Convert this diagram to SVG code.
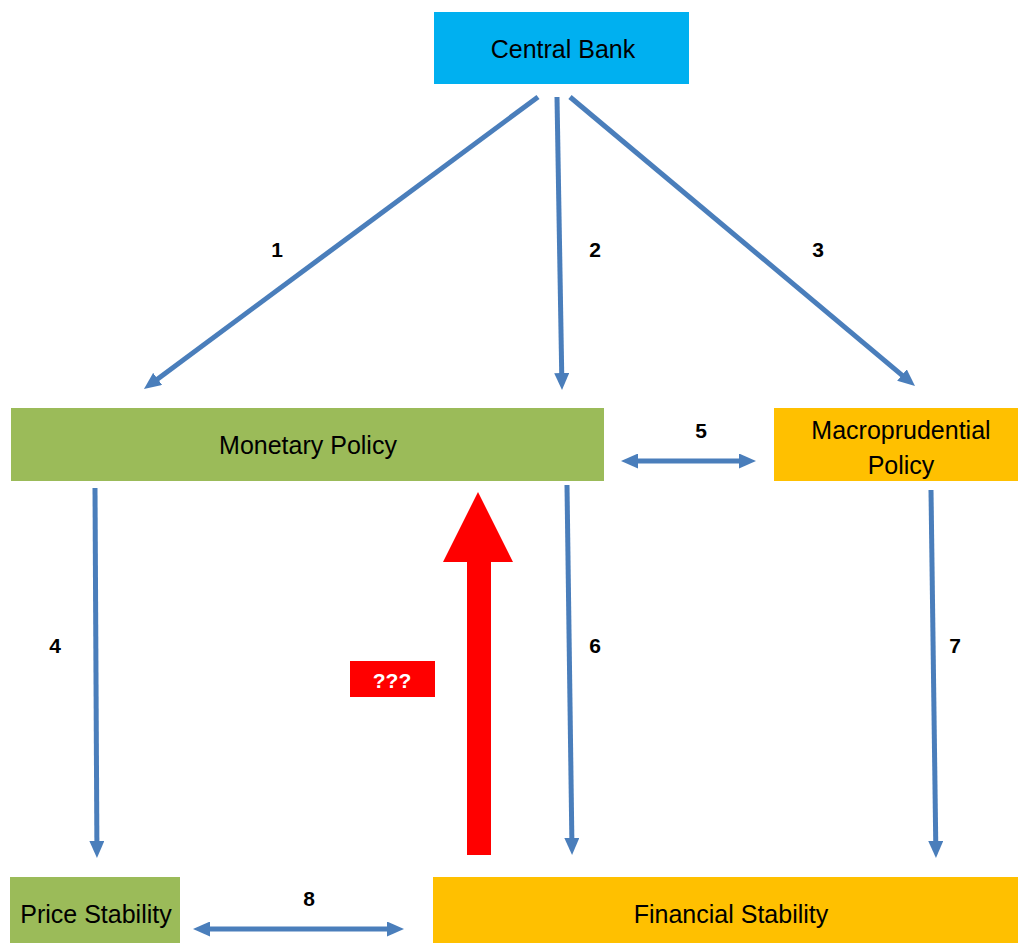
<svg xmlns="http://www.w3.org/2000/svg" width="1018" height="943" viewBox="0 0 1018 943">
<style>
.node-text{font-family:"Liberation Sans",Arial,sans-serif;font-size:25px;fill:#000;text-anchor:middle}
.num{font-family:"Liberation Sans",Arial,sans-serif;font-size:21px;font-weight:bold;fill:#000;text-anchor:middle}
.conn{stroke:#4A7EBB;stroke-width:5;fill:none}
</style>
<defs>
<marker id="ah" markerUnits="userSpaceOnUse" viewBox="0 0 17 15" markerWidth="17" markerHeight="15" refX="5" refY="7.5" orient="auto-start-reverse">
<path d="M0,0 L17,7.5 L0,15 z" fill="#4A7EBB"/>
</marker>
</defs>
<rect width="1018" height="943" fill="#fff"/>
<g id="central-bank">
<rect x="434" y="12" width="255" height="72" fill="#00B0F0"/>
<text class="node-text" x="563" y="58">Central Bank</text>
</g>
<g id="monetary-policy">
<rect x="11" y="408" width="593" height="73" fill="#9BBB59"/>
<text class="node-text" x="308" y="454">Monetary Policy</text>
</g>
<g id="macroprudential-policy">
<rect x="774" y="408" width="244" height="73" fill="#FFC000"/>
<text class="node-text" x="901" y="439">Macroprudential</text>
<text class="node-text" x="901" y="474">Policy</text>
</g>
<g id="price-stability">
<rect x="10" y="877" width="170" height="66" fill="#9BBB59"/>
<text class="node-text" x="96" y="923">Price Stability</text>
</g>
<g id="financial-stability">
<rect x="433" y="877" width="585" height="66" fill="#FFC000"/>
<text class="node-text" x="731" y="923">Financial Stability</text>
</g>
<g id="connectors">
<line class="conn" x1="538" y1="97" x2="153.6" y2="381.9" marker-end="url(#ah)"/>
<line class="conn" x1="557" y1="97" x2="561.8" y2="378" marker-end="url(#ah)"/>
<line class="conn" x1="570" y1="97" x2="905.8" y2="378.3" marker-end="url(#ah)"/>
<line class="conn" x1="633" y1="461" x2="744" y2="461" marker-start="url(#ah)" marker-end="url(#ah)"/>
<line class="conn" x1="95" y1="488" x2="96.9" y2="846" marker-end="url(#ah)"/>
<line class="conn" x1="567" y1="485" x2="571.9" y2="843" marker-end="url(#ah)"/>
<line class="conn" x1="931" y1="490" x2="935.8" y2="846" marker-end="url(#ah)"/>
<line class="conn" x1="205" y1="929" x2="392" y2="929" marker-start="url(#ah)" marker-end="url(#ah)"/>
<path d="M467,855 L467,562 L443,562 L478,492 L513,562 L491,562 L491,855 z" fill="#FF0000"/>
</g>
<g id="labels">
<text class="num" x="277" y="257">1</text>
<text class="num" x="595" y="257">2</text>
<text class="num" x="818" y="257">3</text>
<text class="num" x="55" y="653">4</text>
<text class="num" x="701" y="438">5</text>
<text class="num" x="595" y="653">6</text>
<text class="num" x="955" y="653">7</text>
<text class="num" x="309" y="906">8</text>
</g>
<g id="question-label">
<rect x="350" y="661" width="85" height="36" fill="#FF0000"/>
<text class="num" x="392" y="688" style="fill:#fff">???</text>
</g>
</svg>
